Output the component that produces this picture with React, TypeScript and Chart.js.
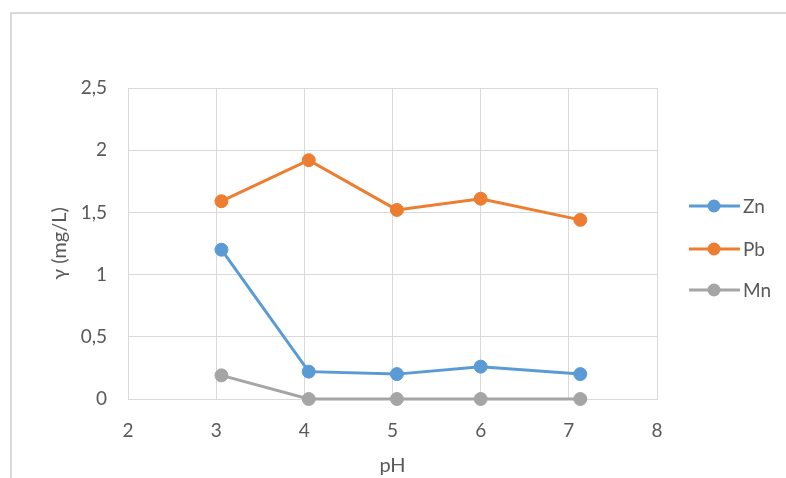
import React, { useEffect, useRef } from "react";
import { Chart, registerables } from "chart.js";

Chart.register(...registerables);

const phValues = [3.06, 4.05, 5.05, 6.0, 7.13];
const znValues = [1.2, 0.22, 0.2, 0.26, 0.2];
const pbValues = [1.59, 1.92, 1.52, 1.61, 1.44];
const mnValues = [0.19, 0, 0, 0, 0];
const seriesNames = ["Zn", "Pb", "Mn"];
const seriesColors = ["#5b9bd5", "#ed7d31", "#a5a5a5"];
const xTitle = "pH";
const yTitle = "γ (mg/L)";

const FONT = "Lato, 'Open Sans', sans-serif";
const TEXT = "#595959";
const GRID = "#d9d9d9";

const toPoints = (vals: number[]) => vals.map((v, i) => ({ x: phValues[i], y: v }));

const legendPlugin = {
  id: "customLegend",
  afterDraw(chart: any) {
    const ctx = chart.ctx;
    const ys = [206, 249, 290];
    ctx.save();
    chart.data.datasets.forEach((ds: any, i: number) => {
      const y = ys[i];
      ctx.strokeStyle = ds.borderColor;
      ctx.lineWidth = 3;
      ctx.beginPath();
      ctx.moveTo(689, y);
      ctx.lineTo(740, y);
      ctx.stroke();
      ctx.fillStyle = ds.borderColor;
      ctx.beginPath();
      ctx.arc(714, y, 6.5, 0, Math.PI * 2);
      ctx.fill();
      ctx.fillStyle = TEXT;
      ctx.font = `19px ${FONT}`;
      ctx.textAlign = "left";
      ctx.textBaseline = "middle";
      ctx.fillText(ds.label, 743, y + 1);
    });
    ctx.restore();
  },
};

export default function App() {
  const ref = useRef<HTMLCanvasElement | null>(null);
  useEffect(() => {
    if (!ref.current) return;
    const series = [znValues, pbValues, mnValues];
    const chart = new Chart(ref.current, {
      type: "line",
      data: {
        datasets: series.map((vals, i) => ({
          label: seriesNames[i],
          data: toPoints(vals),
          borderColor: seriesColors[i],
          backgroundColor: seriesColors[i],
          borderWidth: 3,
          pointRadius: 6.5,
          pointBorderWidth: 1,
          pointBackgroundColor: seriesColors[i],
          pointBorderColor: seriesColors[i],
          tension: 0,
          clip: false as any,
        })),
      },
      options: {
        animation: false,
        responsive: false,
        devicePixelRatio: 1,
        layout: { padding: { left: 0, top: 88, right: 129, bottom: 0 } },
        plugins: { legend: { display: false }, tooltip: { enabled: false } },
        scales: {
          x: {
            type: "linear",
            min: 2,
            max: 8,
            ticks: { stepSize: 1, color: TEXT, font: { family: FONT, size: 19 }, padding: 20 },
            grid: { color: GRID, lineWidth: 1, drawTicks: false },
            border: { color: GRID, width: 1 },
            title: { display: true, text: xTitle, color: TEXT, font: { family: FONT, size: 20 }, padding: { top: 0, bottom: 0 } },
            afterFit: (s: any) => { s.height = 79; },
          },
          y: {
            min: 0,
            max: 2.5,
            ticks: {
              stepSize: 0.5,
              color: TEXT,
              font: { family: FONT, size: 19 },
              padding: 21,
              callback: (v: any) => String(v).replace(".", ","),
            },
            grid: { color: GRID, lineWidth: 1, drawTicks: false },
            border: { color: GRID, width: 1 },
            title: { display: true, text: yTitle, color: TEXT, font: { family: FONT, size: 20 }, padding: { top: 48, bottom: 0 } },
            afterFit: (s: any) => { s.width = 128; },
          },
        },
      },
      plugins: [legendPlugin],
    });
    return () => chart.destroy();
  }, []);
  return (
    <div style={{ position: "fixed", left: 0, top: 0, width: 786, height: 478, background: "#fff" }}>
      <div style={{ position: "absolute", left: 10, top: 12, width: 776, height: 466, borderTop: `2px solid ${GRID}`, borderLeft: `2px solid ${GRID}`, boxSizing: "border-box" }} />
      <canvas ref={ref} width={786} height={478} style={{ position: "absolute", left: 0, top: 0 }} />
    </div>
  );
}
